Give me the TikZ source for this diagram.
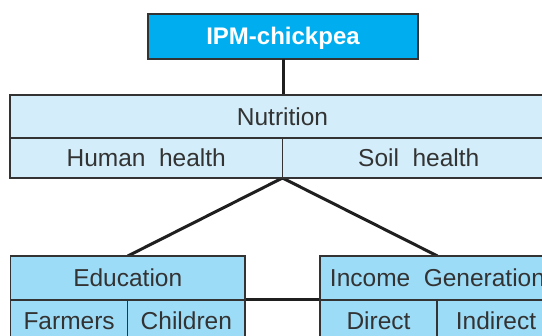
\documentclass[tikz,border=0pt]{standalone}
\usepackage{fontspec}
\setmainfont{Liberation Sans}
\definecolor{ipmblue}{HTML}{00AEEF}
\definecolor{paleblue}{HTML}{D3EEFA}
\definecolor{skyblue}{HTML}{9DDCF7}
\definecolor{inkgray}{HTML}{333333}

\begin{document}
\begin{tikzpicture}[x=1pt,y=-1pt,
    cell/.style={draw=inkgray, line width=1.1pt, rectangle, anchor=north west,
      inner sep=0pt, outer sep=0pt, text=inkgray, text height=17.5pt, text depth=0pt,
      font={\fontsize{24.5}{28}\selectfont\spaceskip=0.55em\relax}},
    topbox/.style={cell, fill=ipmblue, text=white, text height=17pt,
      font={\fontsize{24}{28}\selectfont\bfseries}},
    link/.style={line width=3pt, color=black!88}]
    \useasboundingbox (0,0) rectangle (542,336);
    \clip (0,0) rectangle (542,336);% boxes run past the right edge
    \coordinate (TopCorner) at (148,14);
    \coordinate (NutCorner) at (10,95);
    \coordinate (EduCorner) at (10.5,256);
    \coordinate (IncCorner) at (320,256);
    % connectors first, the boxes cover their ends
    \path (TopCorner) node[topbox, minimum width=270, minimum height=45] (ipm) {IPM-chickpea};
    \path (NutCorner) node[cell, minimum width=545, minimum height=83] (nutri) {};
    \path (EduCorner) node[cell, minimum width=234.5, minimum height=44] (educ) {};
    \path (IncCorner) node[cell, minimum width=235, minimum height=44] (income) {};
    \draw[link] (ipm.south) -- (ipm.south |- nutri.north);
    \draw[link] (educ.north) -- (nutri.south) -- (income.north);
    \draw[link] (educ.south east) -- (income.south west);
    % Nutrition table
    \node[cell, fill=paleblue, minimum width=545, minimum height=43] (nutri) at (NutCorner) {Nutrition};
    \node[cell, fill=paleblue, minimum width=272.5, minimum height=40] (human) at (nutri.south west) {Human health};
    \node[cell, fill=paleblue, minimum width=272.5, minimum height=40] (soil) at (human.north east) {Soil health};
    % Education table
    \node[cell, fill=skyblue, minimum width=234.5, minimum height=44] (educ) at (EduCorner) {Education};
    \node[cell, fill=skyblue, minimum width=117.2, minimum height=42] (farmers) at (educ.south west) {Farmers};
    \node[cell, fill=skyblue, minimum width=117.3, minimum height=42] (children) at (farmers.north east) {Children};
    % Income table
    \node[cell, fill=skyblue, minimum width=235, minimum height=44] (income) at (IncCorner) {Income Generation};
    \node[cell, fill=skyblue, minimum width=117, minimum height=42] (direct) at (income.south west) {Direct};
    \node[cell, fill=skyblue, minimum width=118, minimum height=42] (indirect) at (direct.north east) {Indirect};
\end{tikzpicture}
\end{document}
